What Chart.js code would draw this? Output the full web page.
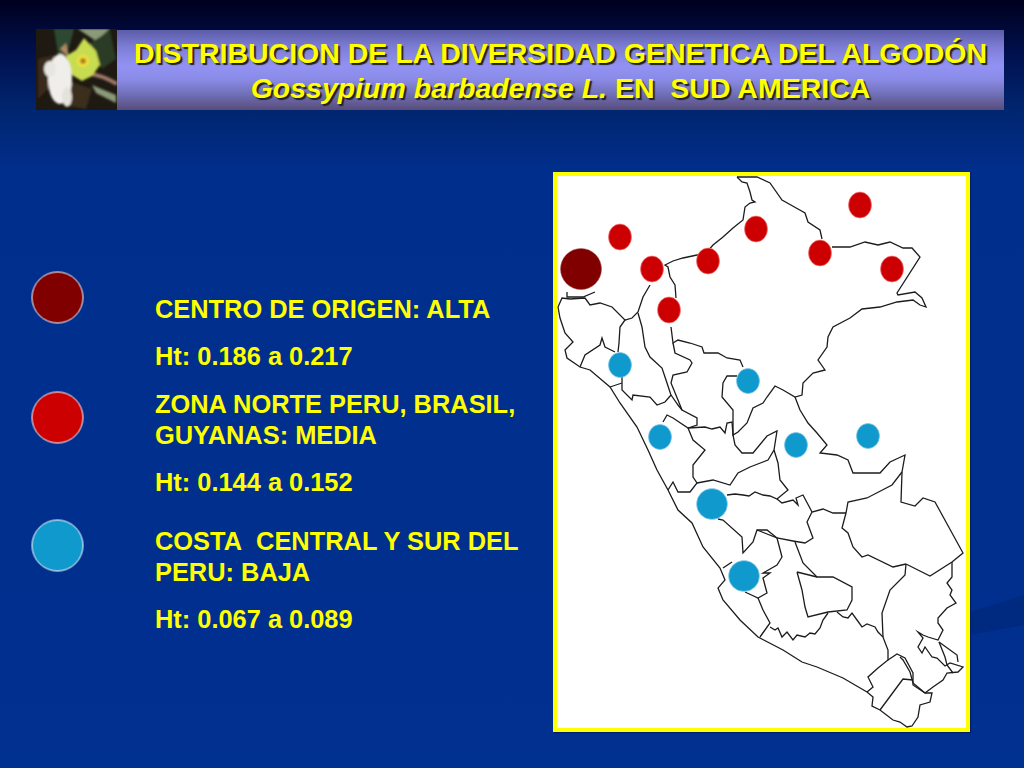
<!DOCTYPE html>
<html>
<head>
<meta charset="utf-8">
<script src="https://cdn.jsdelivr.net/npm/chart.js@4/dist/chart.umd.min.js"></script>
<style>
  html, body { margin: 0; padding: 0; }
  body {
    width: 1024px; height: 768px; position: relative; overflow: hidden;
    font-family: "Liberation Sans", sans-serif; font-weight: bold; color: #ffff00;
    background: linear-gradient(to bottom, #00001e 0, #00114f 55px, #002670 110px, #002e8c 170px, #003090 768px);
  }
  #streak {
    position: absolute; left: 970px; top: 590px; width: 54px; height: 50px;
    background: #002a80; clip-path: polygon(0 22px, 54px 5px, 54px 35px, 0 45px);
  }
  #photo { position: absolute; left: 36px; top: 29px; width: 81px; height: 81px; }
  #banner {
    position: absolute; left: 117px; top: 30px; width: 887px; height: 80px;
    background: linear-gradient(to bottom, #5c5ca8 0, #7e7ed8 22%, #9292f4 45%, #8a8ae6 62%, #7070b8 80%, #584c78 100%);
  }
  #title {
    position: absolute; left: 117px; top: 36px; width: 887px; text-align: center; white-space: nowrap;
    font-size: 28.5px; line-height: 35px; text-shadow: 2px 2px 1px #222;
  }
  #frame {
    position: absolute; left: 553px; top: 172px; width: 409px; height: 552px;
    background: #fff; border: 4px solid #ffff00; box-shadow: 1px 1px 1px #00206a;
  }
  .note { position: absolute; left: 155px; font-size: 25.4px; line-height: 31px; white-space: nowrap; }
  canvas { position: absolute; left: 0; top: 0; }
</style>
</head>
<body>
<div id="streak"></div>
<svg id="photo" viewBox="0 0 81 81">
  <defs><filter id="soft"><feGaussianBlur stdDeviation="1.3"/></filter></defs>
  <rect width="81" height="81" fill="#1e1a12"/>
  <g filter="url(#soft)">
    <path d="M18 0 L38 0 L30 30 L22 24Z" fill="#2e4a30"/>
    <path d="M42 0 L74 0 L60 12Z" fill="#8a9a78"/>
    <path d="M54 14 L74 2 L80 30 L66 40Z" fill="#2a3a26"/>
    <path d="M2 30 L18 26 L12 60 L2 70Z" fill="#3a2c1c"/>
    <path d="M32 52 L56 60 L50 80 L28 76Z" fill="#3a2e1a"/>
    <path d="M56 56 L80 66 L80 74 L60 64Z" fill="#8a9a78"/>
    <path d="M50 44 Q66 46 81 55" stroke="#a07868" stroke-width="4" fill="none"/>
    <path d="M24 20 L30 14 L33 28Z" fill="#b08860"/>
    <path d="M48 9 L60 22 L64 36 L56 47 L46 52 L36 46 L30 27 L40 21Z" fill="#c8dc50"/>
    <ellipse cx="24" cy="50" rx="12" ry="25" fill="#f0eeea"/>
    <ellipse cx="14" cy="40" rx="6" ry="8" fill="#e8e6e2"/>
    <ellipse cx="31" cy="68" rx="5" ry="10" fill="#e4e2dc"/>
    <circle cx="47" cy="32" r="6" fill="#f0e040"/>
    <circle cx="47" cy="32" r="3" fill="#b08818"/>
  </g>
</svg>
<div id="banner"></div>
<div id="title">DISTRIBUCION DE LA DIVERSIDAD GENETICA DEL ALGODÓN<br><i>Gossypium barbadense L.</i> EN&nbsp; SUD AMERICA</div>
<div id="frame"></div>
<div class="note" style="top:294px">CENTRO DE ORIGEN: ALTA</div>
<div class="note" style="top:341px">Ht: 0.186 a 0.217</div>
<div class="note" style="top:389px">ZONA NORTE PERU, BRASIL,<br>GUYANAS: MEDIA</div>
<div class="note" style="top:467px">Ht: 0.144 a 0.152</div>
<div class="note" style="top:526px">COSTA&nbsp; CENTRAL Y SUR DEL<br>PERU: BAJA</div>
<div class="note" style="top:604px">Ht: 0.067 a 0.089</div>
<canvas id="map" width="1024" height="768"></canvas>
<script>
// sites
const altaSites = [[581, 269]];
const mediaSites = [[620, 237], [756, 229], [860, 205], [652, 269], [708, 261], [820, 253], [892, 269], [669, 310]];
const bajaSites = [[620, 365], [748, 381], [660, 437], [796, 445], [868, 436]];
const bajaLarge = [[712, 504], [744, 576]];
const keyAlta = [[57.5, 297.5]];
const keyMedia = [[57.5, 417.5]];
const keyBaja = [[57.5, 545.5]];

// map outlines, traced by eye
const outlines = [
  [[737,177],[742,182],[747,183],[750,192],[752,200],[755,202],[750,203],[745,207],[743,220],[733,228],[723,237],[713,245],[707,252],[697,255],[683,258],[673,261],[665,265],[668,267],[670,277],[675,285],[676,298]],
  [[671,327],[673,343],[678,340],[690,343],[702,347],[704,353],[718,353],[727,358],[740,360],[743,367]],
  [[737,177],[757,177],[770,183],[782,200],[798,209],[805,213],[808,222],[820,230],[822,239]],
  [[832,247],[850,247],[865,242],[878,245],[890,242],[903,248],[912,248],[920,257],[897,293],[898,295],[915,292],[922,298],[926,307],[920,305],[913,300],[897,302],[880,307],[862,309],[850,318],[833,327],[828,337],[827,347],[818,360],[825,370],[813,373],[803,383],[802,395],[795,397],[783,390],[775,386],[767,397],[763,403],[753,408],[747,423],[738,432],[733,435],[733,410],[722,397],[723,383],[727,376],[737,376]],
  [[795,397],[800,410],[808,423],[817,433],[827,445],[820,453],[837,455],[848,460],[853,473],[880,473],[890,462],[905,455],[902,472],[901,502],[915,506],[923,498],[935,502],[963,553],[952,562],[930,576],[906,564]],
  [[906,564],[893,567],[868,555],[862,557],[853,547],[848,533],[842,528],[846,513],[848,502],[867,498],[892,485],[902,472]],
  [[846,513],[833,513],[823,509],[812,512],[807,522],[813,538],[805,543],[793,541],[777,538],[767,530],[757,530],[753,542],[743,553],[742,537],[723,520],[718,519]],
  [[567,292],[567,297],[583,297],[595,292]],
  [[558,307],[562,298],[570,299],[585,298],[590,305],[600,303],[612,307],[625,320],[620,327],[619,343],[618,352]],
  [[558,307],[560,318],[565,333],[573,342],[565,350],[567,358],[580,367],[590,370],[610,387],[620,403],[637,427],[648,450],[657,470],[668,490],[678,510],[692,523],[703,547],[720,568],[725,580],[718,588],[723,600],[740,620],[758,637],[783,650],[802,662],[817,667],[843,678],[867,692],[873,697],[872,706],[880,710],[893,720],[900,722],[907,727],[912,726],[918,717],[920,705],[930,702],[932,693],[925,693],[913,683],[910,672],[903,660],[900,657]],
  // Puno side and the lake
  [[952,562],[952,577],[947,583],[952,590],[950,595],[956,603],[947,608],[938,618],[938,623],[943,630],[938,640],[928,637],[923,635],[918,632],[923,638],[918,647],[922,653],[925,647],[932,657],[937,658],[945,666],[950,663],[963,667],[958,672],[947,673],[943,680],[933,687],[925,693]],
  [[939,642],[945,657],[947,665],[953,673]],
  [[939,642],[957,655],[958,662]],
  [[650,285],[643,297],[638,312],[632,318],[625,320]],
  [[638,313],[642,327],[645,347],[650,357],[662,368],[667,383],[671,395],[665,402],[657,405],[650,397],[633,395],[632,400],[622,390],[622,377]],
  [[673,343],[675,353],[690,360],[692,363],[687,372],[673,375],[671,383],[678,400],[682,410],[697,418],[697,425],[688,428],[673,418],[667,415],[663,422]],
  [[580,367],[585,355],[600,345],[602,338],[605,347],[615,352]],
  [[610,387],[622,383]],
  [[671,395],[678,405],[682,410]],
  [[688,428],[693,440],[705,450],[693,465],[693,477],[697,483],[690,492],[678,492],[673,482],[668,490]],
  [[688,428],[705,427],[712,429],[720,427],[725,433],[727,423],[732,422],[733,435],[735,445],[742,453],[753,453],[767,436],[777,431],[774,450],[768,460],[750,467],[738,473],[730,485],[713,480],[697,483]],
  [[774,450],[778,463],[780,480],[788,490],[777,499],[770,496],[763,495],[755,492],[749,496],[743,495],[735,494],[727,495]],
  [[777,499],[782,503],[793,500],[798,505],[796,498],[803,495],[812,512]],
  [[723,568],[732,562]],
  [[757,530],[777,538],[782,557],[777,565],[763,573],[770,573],[763,578],[767,593],[758,598],[745,592]],
  [[758,598],[763,610],[770,623],[760,637]],
  [[770,627],[775,630],[778,628],[782,637],[787,632],[793,640],[797,635],[805,637],[810,633],[815,634],[820,628],[823,620],[828,613]],
  [[795,542],[803,563],[817,577]],
  [[797,572],[817,577],[833,577],[852,587],[852,600],[847,610],[828,612],[808,617],[805,607],[802,590],[797,572]],
  [[837,612],[843,617],[848,618],[852,613],[857,620],[862,627],[867,624],[875,627],[878,632],[883,637],[888,650],[888,660],[878,668],[868,677],[873,687],[867,692]],
  [[883,637],[882,613],[890,590],[905,575],[906,564]],
  [[888,660],[897,654],[905,658],[913,673],[913,685],[925,693]],
  [[880,710],[900,683],[903,679],[913,680]]
];

// a dot as a small canvas, so the map dots can stay slightly oval
function makeDot(rx, ry, fill, edge, edgeWidth) {
  const c = document.createElement('canvas');
  const pad = Math.ceil(edgeWidth) + 1;
  c.width = (Math.ceil(rx) + pad) * 2;
  c.height = (Math.ceil(ry) + pad) * 2;
  const g = c.getContext('2d');
  g.beginPath();
  g.ellipse(c.width / 2, c.height / 2, rx, ry, 0, 0, Math.PI * 2);
  g.fillStyle = fill;
  g.fill();
  g.lineWidth = edgeWidth;
  g.strokeStyle = edge;
  g.stroke();
  return c;
}

function toPoints(list) {
  return list.map(([x, y]) => ({ x, y }));
}

function dotSet(list, style) {
  return { data: toPoints(list), pointStyle: style, showLine: false, order: 0 };
}

const datasets = [
  dotSet(altaSites, makeDot(20.5, 20.5, '#800000', '#a05050', 0.5)),
  dotSet(mediaSites, makeDot(11.5, 13, '#cc0000', '#f08080', 0.7)),
  dotSet(bajaSites, makeDot(11.5, 12.5, '#0f99cc', '#80c8e8', 0.7)),
  dotSet(bajaLarge, makeDot(15.5, 15.5, '#0f99cc', '#a0d8f0', 0.7)),
  dotSet(keyAlta, makeDot(25.5, 25.5, '#800000', '#ffffff', 1)),
  dotSet(keyMedia, makeDot(25.5, 25.5, '#cc0000', '#ffffff', 1)),
  dotSet(keyBaja, makeDot(25.5, 25.5, '#0f99cc', '#ffffff', 1))
];

outlines.forEach((line) => {
  datasets.push({
    data: toPoints(line),
    showLine: true,
    borderColor: '#1c1c1c',
    borderWidth: 1.3,
    pointRadius: 0,
    tension: 0,
    order: 1
  });
});

new Chart(document.getElementById('map').getContext('2d'), {
  type: 'scatter',
  data: { datasets },
  options: {
    responsive: false,
    animation: false,
    events: [],
    layout: { padding: 0, autoPadding: false },
    plugins: { legend: { display: false }, tooltip: { enabled: false } },
    scales: {
      x: { type: 'linear', min: 0, max: 1024, display: false },
      y: { type: 'linear', min: 0, max: 768, reverse: true, display: false }
    }
  }
});
</script>
</body>
</html>
